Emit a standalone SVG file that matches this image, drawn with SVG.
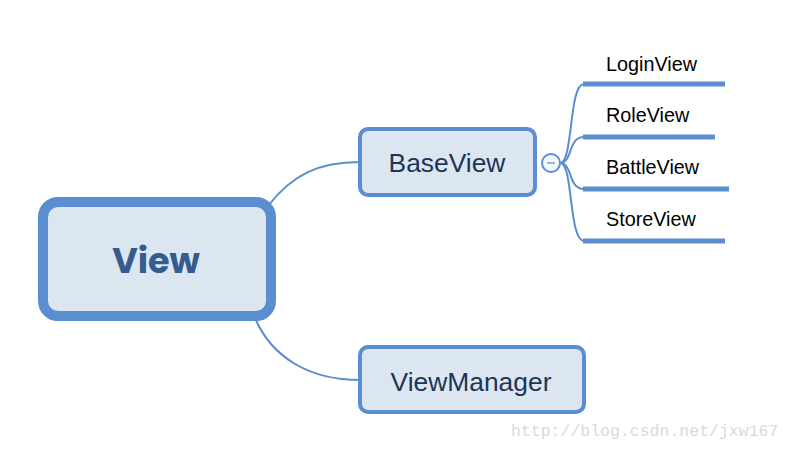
<svg xmlns="http://www.w3.org/2000/svg" width="792" height="450" viewBox="0 0 792 450">
<style>
.box{fill:#dce6f1;stroke:#5a8ed1}
.conn{fill:none;stroke:#5a8ed1;stroke-width:2}
.bar{stroke:#5a8ed1;stroke-width:5}
.lbl{font-family:"Helvetica Neue","Liberation Sans",Arial,sans-serif;fill:#000;font-size:19.8px}
.mid{font-family:"Helvetica Neue","Liberation Sans",Arial,sans-serif;fill:#1c3557;font-size:26.4px;text-anchor:middle}
</style>
<rect width="792" height="450" fill="#fff"/>
<g id="connectors">
<path class="conn" d="M268,206 C292,175 318,162 360,162"/>
<path class="conn" d="M255,318 C272,358 310,380 360,380"/>
<path class="conn" d="M561,163 C573,160 569,84 584,84"/>
<path class="conn" d="M561,163 C573,161 568,137 584,137"/>
<path class="conn" d="M561,163 C573,165 568,189 584,189"/>
<path class="conn" d="M561,163 C573,166 569,241 584,241"/>
</g>
<g id="view">
<rect class="box" x="43" y="202" width="228" height="114" rx="15" stroke-width="10"/>
<text x="156" y="273" text-anchor="middle" font-family="Poppins,'Open Sans','Liberation Sans',Arial,sans-serif" font-weight="bold" font-size="35" fill="#355c8e">View</text>
</g>
<g id="baseview">
<rect class="box" x="360" y="129" width="175" height="66" rx="8" stroke-width="4"/>
<text class="mid" x="447" y="172">BaseView</text>
<circle cx="551" cy="163" r="9" fill="#f4f7fb" stroke="#5a8ed1" stroke-width="2"/>
<line x1="547" y1="163" x2="555" y2="163" stroke="#8a9bb3" stroke-width="1.5"/>
</g>
<g id="viewmanager">
<rect class="box" x="360" y="347" width="224" height="65" rx="8" stroke-width="4"/>
<text class="mid" x="471" y="391">ViewManager</text>
</g>
<g id="loginview">
<line class="bar" x1="583" y1="84" x2="725" y2="84"/>
<text class="lbl" x="606" y="71">LoginView</text>
</g>
<g id="roleview">
<line class="bar" x1="583" y1="137" x2="715" y2="137"/>
<text class="lbl" x="606" y="122">RoleView</text>
</g>
<g id="battleview">
<line class="bar" x1="583" y1="189" x2="729" y2="189"/>
<text class="lbl" x="606" y="174">BattleView</text>
</g>
<g id="storeview">
<line class="bar" x1="583" y1="241" x2="725" y2="241"/>
<text class="lbl" x="606" y="226">StoreView</text>
</g>
<text x="511" y="436" font-family="'Liberation Mono','DejaVu Sans Mono',monospace" font-size="16.5" fill="#dadada">http://blog.csdn.net/jxw167</text>
</svg>
